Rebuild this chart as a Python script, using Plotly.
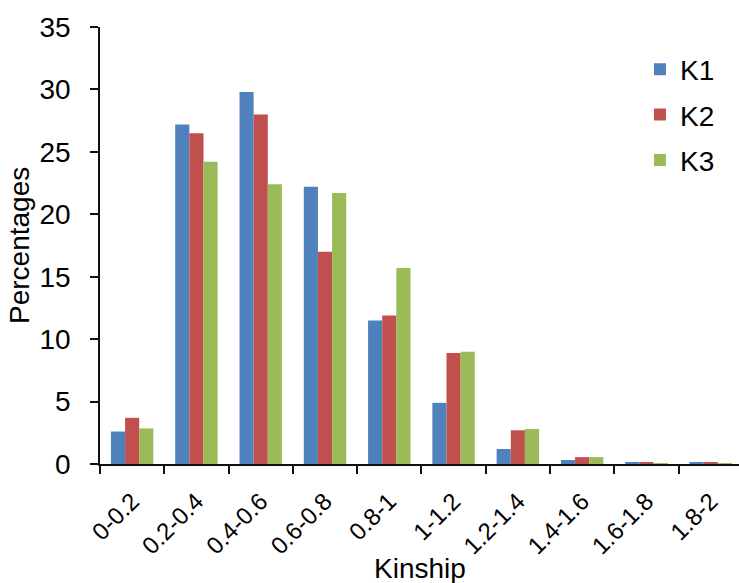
import plotly.graph_objects as go

categories = ["0-0.2", "0.2-0.4", "0.4-0.6", "0.6-0.8", "0.8-1", "1-1.2", "1.2-1.4", "1.4-1.6", "1.6-1.8", "1.8-2"]
k1 = [2.6, 27.2, 29.8, 22.2, 11.5, 4.9, 1.2, 0.32, 0.1, 0.1]
k2 = [3.7, 26.5, 28.0, 17.0, 11.9, 8.9, 2.7, 0.55, 0.1, 0.1]
k3 = [2.85, 24.2, 22.4, 21.7, 15.7, 9.0, 2.8, 0.55, 0.08, 0.08]
series = [("K1", k1, "#4F81BD"), ("K2", k2, "#C0504D"), ("K3", k3, "#9BBB59")]

FONT = "Liberation Sans, Arial, sans-serif"

fig = go.Figure()
for i, (name, vals, color) in enumerate(series):
    fig.add_trace(go.Bar(x=categories, y=vals, name=name, marker=dict(color=color, line=dict(width=0)),
                         legendgroup=name))

fig.update_layout(
    width=739, height=583,
    margin=dict(l=100, r=0, t=27, b=119),
    paper_bgcolor="white", plot_bgcolor="white",
    barmode="group", bargap=0.34, bargroupgap=0,
    font=dict(family=FONT, color="black"),
    showlegend=True,
    legend=dict(x=0.845, y=0.96, xanchor="left", yanchor="top", font=dict(size=28, color="black"),
                tracegroupgap=6, itemwidth=30, bgcolor="rgba(0,0,0,0)"),
    xaxis=dict(range=[-0.5, 9.44], showline=True, linecolor="#111", linewidth=1.5,
               ticks="outside", tickson="boundaries", ticklen=8, tickcolor="#111", tickwidth=1.5,
               tickangle=-45, tickfont=dict(size=24, color="black"), showgrid=False,
               ticklabelstandoff=12),
    yaxis=dict(range=[0, 35], dtick=5, showline=True, linecolor="#111", linewidth=1.5,
               ticks="outside", ticklen=8, tickcolor="#111", tickwidth=1.5,
               tickfont=dict(size=28, color="black"), showgrid=False, zeroline=False,
               ticklabelstandoff=14),
    annotations=[
        dict(text="Percentages", xref="paper", yref="paper", x=-0.126, y=0.5, textangle=-90,
             showarrow=False, font=dict(size=28, color="black"), xanchor="center", yanchor="middle"),
        dict(text="Kinship", xref="paper", yref="paper", x=0.5, y=-0.24,
             showarrow=False, font=dict(size=28, color="black"), xanchor="center", yanchor="middle"),
    ],
)

fig.write_html("out.html")
